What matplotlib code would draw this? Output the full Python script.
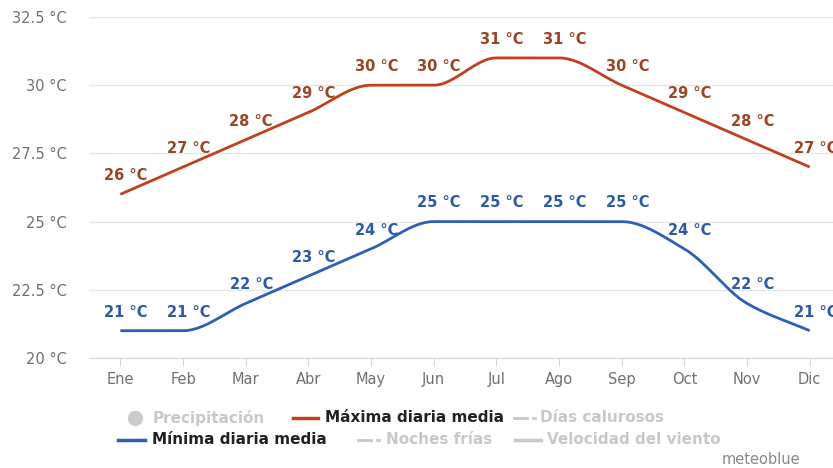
import numpy as np
import matplotlib.pyplot as plt
from matplotlib.lines import Line2D

months = ['Ene', 'Feb', 'Mar', 'Abr', 'May', 'Jun', 'Jul', 'Ago', 'Sep', 'Oct', 'Nov', 'Dic']
t_max = [26, 27, 28, 29, 30, 30, 31, 31, 30, 29, 28, 27]
t_min = [21, 21, 22, 23, 24, 25, 25, 25, 25, 24, 22, 21]
y_ticks = [20, 22.5, 25, 27.5, 30, 32.5]

c_max = '#c0401f'
c_max_lbl = '#9a4526'
c_min = '#2f5fb3'
c_min_lbl = '#2d5aa6'
c_grey = '#c8c8c8'


def smooth(y, n=30):
    # monotone cubic (Fritsch-Carlson) through the monthly points
    y = np.asarray(y, float)
    x = np.arange(len(y))
    d = np.diff(y)
    m = np.zeros(len(y))
    m[0], m[-1] = d[0], d[-1]
    for i in range(1, len(y) - 1):
        if d[i - 1] * d[i] > 0:
            m[i] = 2 / (1 / d[i - 1] + 1 / d[i])
    xs, ys = [], []
    for i in range(len(y) - 1):
        t = np.linspace(0, 1, n)
        h00 = 2 * t**3 - 3 * t**2 + 1
        h10 = t**3 - 2 * t**2 + t
        h01 = -2 * t**3 + 3 * t**2
        h11 = t**3 - t**2
        xs.append(x[i] + t)
        ys.append(h00 * y[i] + h10 * m[i] + h01 * y[i + 1] + h11 * m[i + 1])
    return np.concatenate(xs), np.concatenate(ys)


fig = plt.figure(figsize=(8.33, 4.68), dpi=100)
ax = fig.add_axes([89 / 833, 1 - 358 / 468, 1 - 89 / 833, (358 - 17) / 468])

x = np.arange(len(months))
for vals, col, lcol in [(t_max, c_max, c_max_lbl), (t_min, c_min, c_min_lbl)]:
    sx, sy = smooth(vals)
    ax.plot(sx, sy, color=col, lw=2, solid_capstyle='butt')
    for xi, v in zip(x, vals):
        ax.annotate(f'{v} °C', (xi, v), xytext=(4, 8), textcoords='offset points',
                    ha='center', va='bottom', fontsize=10.5, fontweight='bold', color=lcol)

ax.set_xlim(-0.5, (833 - 120) / 62.7)
ax.set_ylim(20, 32.5)
ax.set_xticks(x)
ax.set_xticklabels(months, fontsize=10.5, color='#707070')
ax.set_yticks(y_ticks)
ax.set_yticklabels([f'{v:g} °C' for v in y_ticks], fontsize=10.5, color='#707070')
ax.grid(axis='y', color='#e6e6e6', lw=1)
ax.set_axisbelow(True)
for s in ['top', 'right', 'left']:
    ax.spines[s].set_visible(False)
ax.spines['bottom'].set_color('#d8d8d8')
ax.tick_params(axis='y', length=0, pad=16)
ax.tick_params(axis='x', length=6, color='#d8d8d8', pad=4)

# legend drawn by hand in figure pixels
W, H = 833, 468


def fx(px):
    return px / W


def fy(py):
    return 1 - py / H


def leg_line(x0, x1, y, col, dash=False):
    if dash:
        fig.add_artist(Line2D([fx(x0), fx(x0 + 13)], [fy(y)] * 2, color=col, lw=2))
        fig.add_artist(Line2D([fx(x0 + 19), fx(x0 + 21)], [fy(y)] * 2, color=col, lw=2))
    else:
        fig.add_artist(Line2D([fx(x0), fx(x1)], [fy(y)] * 2, color=col, lw=2.5))


r1, r2 = 418, 440
fs = 11
fig.add_artist(Line2D([fx(135)], [fy(r1)], marker='o', ms=10, color='#cccccc', lw=0))
fig.text(fx(153), fy(r1), 'Precipitación', fontsize=fs, color=c_grey, va='center', fontweight='bold')
leg_line(293, 318, r1, c_max)
fig.text(fx(325), fy(r1), 'Máxima diaria media', fontsize=fs, color='#222222', va='center', fontweight='bold')
leg_line(514, 0, r1, c_grey, dash=True)
fig.text(fx(540), fy(r1), 'Días calurosos', fontsize=fs, color=c_grey, va='center', fontweight='bold')

leg_line(118, 145, r2, c_min)
fig.text(fx(152), fy(r2), 'Mínima diaria media', fontsize=fs, color='#222222', va='center', fontweight='bold')
leg_line(358, 0, r2, c_grey, dash=True)
fig.text(fx(386), fy(r2), 'Noches frías', fontsize=fs, color=c_grey, va='center', fontweight='bold')
leg_line(515, 541, r2, c_grey)
fig.text(fx(547), fy(r2), 'Velocidad del viento', fontsize=fs, color=c_grey, va='center', fontweight='bold')

fig.text(fx(800), fy(459), 'meteoblue', fontsize=10.5, color='#888888', ha='right', va='center')

fig.savefig('out.png', dpi=100)
